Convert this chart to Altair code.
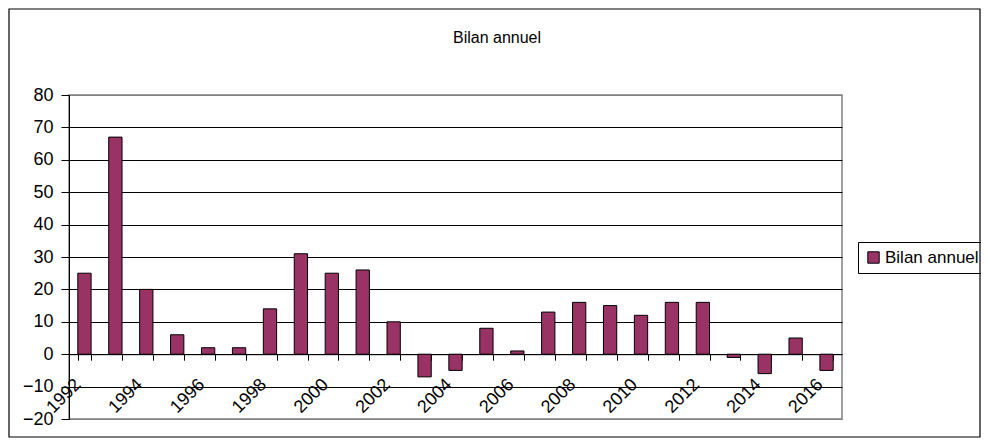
import altair as alt
import pandas as pd

years = ["1992", "1993", "1994", "1995", "1996", "1997", "1998", "1999", "2000",
         "2001", "2002", "2003", "2004", "2005", "2006", "2007", "2008", "2009",
         "2010", "2011", "2012", "2013", "2014", "2015", "2016"]
values = [25, 67, 20, 6, 2, 2, 14, 31, 25, 26, 10, -7, -5, 8, 1, 13, 16, 15,
          12, 16, 16, -1, -6, 5, -5]
series_name = "Bilan annuel"
chart_title = "Bilan annuel"
y_ticks = [-20, -10, 0, 10, 20, 30, 40, 50, 60, 70, 80]

df = pd.DataFrame({"year": years, "value": values, "series": series_name})

FONT = "Liberation Sans"
W, H = 773, 324

x_scale = alt.Scale(domain=years, paddingInner=0.57, paddingOuter=0.285)
y_scale = alt.Scale(domain=[-20, 80], nice=False, zero=False)

bars = alt.Chart(df).mark_bar(stroke="black", strokeWidth=1, opacity=1).encode(
    x=alt.X("year:O", scale=x_scale, title=None,
            axis=alt.Axis(
                orient="bottom", offset=-H * 20 / 100, labelAngle=-45,
                labelAlign="right", labelBaseline="top", labelOffset=-13,
                labelPadding=15, labelFontSize=18, labelFont=FONT,
                labelColor="black", tickBand="extent", tickSize=6,
                tickColor="black", domainColor="black", grid=False,
                labelExpr="parseInt(datum.value) % 2 == 0 ? datum.value : ''",
                labelOverlap=False, labelBound=False, labelFlush=False)),
    y=alt.Y("value:Q", scale=y_scale, title=None,
            axis=alt.Axis(
                values=y_ticks, labelFontSize=18, labelFont=FONT,
                labelColor="black", tickSize=8, tickColor="black",
                domainColor="black", labelPadding=8, grid=True,
                gridColor={"condition": {"test": "datum.value == 80 || datum.value == -20",
                                         "value": "#808080"},
                           "value": "black"},
                gridOpacity=1, gridWidth=1)),
    color=alt.Color("series:N", scale=alt.Scale(domain=[series_name], range=["#993366"]),
                    legend=alt.Legend(
                        title=None, orient="none", legendX=789, legendY=147,
                        strokeColor="black", padding=7, symbolType="square",
                        symbolSize=130, symbolStrokeColor="black",
                        symbolStrokeWidth=1, labelFontSize=17, labelFont=FONT,
                        labelColor="black", symbolOpacity=1,
                        labelOffset=3)),
)

border = alt.Chart(pd.DataFrame({"k": [0]})).mark_rect(
    fill=None, stroke="black", strokeWidth=1.2
).encode(
    x=alt.value(-60), x2=alt.value(911), y=alt.value(-86), y2=alt.value(342)
)

title = alt.Chart(pd.DataFrame({"t": [chart_title]})).mark_text(
    font=FONT, fontSize=16, color="black", align="center", baseline="middle"
).encode(text="t:N", x=alt.value(428), y=alt.value(-57))

chart = alt.layer(border, bars, title).properties(
    width=W, height=H,
    autosize=alt.AutoSizeParams(type="none"),
    padding={"left": 61, "top": 87, "right": 139, "bottom": 19},
).configure_view(stroke="#808080", strokeWidth=1.5)

chart.save("out.html", embed_options={"renderer": "svg", "actions": False})
